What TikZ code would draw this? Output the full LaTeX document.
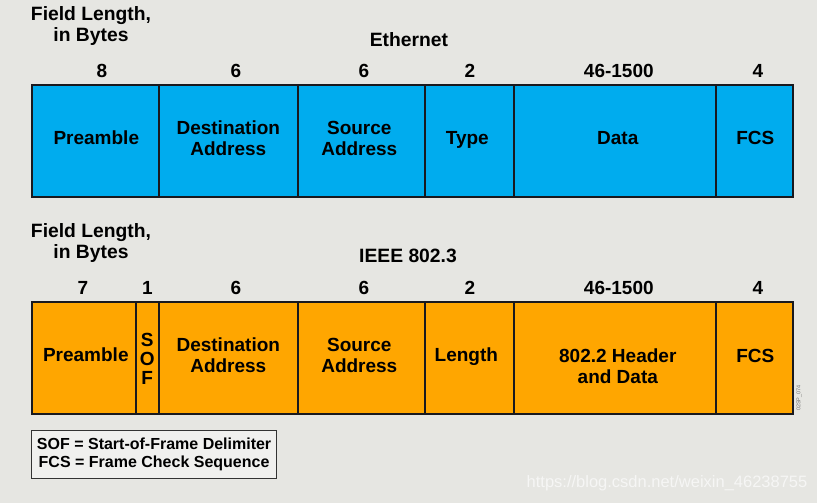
\documentclass[tikz,border=0pt]{standalone}
\usepackage{fontspec}
\setmainfont{Liberation Sans}
\definecolor{bgc}{RGB}{230,230,226}
\definecolor{ethblue}{RGB}{0,172,238}
\definecolor{ieeeor}{RGB}{255,166,0}
\definecolor{edgec}{RGB}{25,25,30}
\tikzset{
  fieldbox/.style={draw=edgec, line width=1.6pt, fill=#1, anchor=north west, inner sep=0pt,
    minimum height=112pt},
  fieldtxt/.style={align=center, inner sep=0pt, font=\fontsize{19}{21}\selectfont\bfseries},
  numlbl/.style={font=\fontsize{19}{21}\selectfont\bfseries, inner sep=0pt},
  headlbl/.style={font=\fontsize{19.3}{20.5}\selectfont\bfseries, align=center, inner sep=0pt},
}
\begin{document}
\begin{tikzpicture}[x=1pt,y=-1pt]
\fill[bgc] (0,0) rectangle (817,503);
\useasboundingbox (0,0) rectangle (817,503);

% Ethernet
\node[headlbl] (fl1) at (91,26) {Field Length,\\in Bytes};
\node[headlbl] (eth) at (409,40) {Ethernet};
\node[fieldbox=ethblue, minimum width=127pt] (e1) at (31,84) {};
\node[fieldbox=ethblue, minimum width=139pt] (e2) at (158,84) {};
\node[fieldbox=ethblue, minimum width=127pt] (e3) at (297,84) {};
\node[fieldbox=ethblue, minimum width=89pt] (e4) at (424,84) {};
\node[fieldbox=ethblue, minimum width=202pt] (e5) at (513,84) {};
\node[fieldbox=ethblue, minimum width=77pt] (e6) at (715,84) {};
\foreach \n/\t/\dx/\dy in {e1/Preamble/1/3, e2/Destination\\Address/0/2.5, e3/Source\\Address/-2/2.5,
    e4/Type/-2/1, e5/Data/3/3, e6/FCS/1/3}
  \node[fieldtxt] (t\n) at ([xshift=\dx pt, yshift=\dy pt]\n.center) {\t};
\foreach \n/\t/\dx in {e1/8/6.5,e2/6/7.5,e3/6/2.5,e4/2/0.5,e5/46-1500/4,e6/4/3.5}
  \node[numlbl] (n\n) at ([xshift=\dx pt, yshift=13pt]\n.north) {\t};

% IEEE 802.3
\node[headlbl] (fl2) at (91,243) {Field Length,\\in Bytes};
\node[headlbl] (ieee) at (408,256) {IEEE 802.3};
\node[fieldbox=ieeeor, minimum width=104pt] (i1) at (31,301) {};
\node[fieldbox=ieeeor, minimum width=23pt] (i2) at (135,301) {};
\node[fieldbox=ieeeor, minimum width=139pt] (i3) at (158,301) {};
\node[fieldbox=ieeeor, minimum width=127pt] (i4) at (297,301) {};
\node[fieldbox=ieeeor, minimum width=89pt] (i5) at (424,301) {};
\node[fieldbox=ieeeor, minimum width=202pt] (i6) at (513,301) {};
\node[fieldbox=ieeeor, minimum width=77pt] (i7) at (715,301) {};
\foreach \n/\t/\dx/\dy in {i1/Preamble/2/3, i3/Destination\\Address/0/2.5, i4/Source\\Address/-2/2,
    i5/Length/-3/1, i6/802.2 Header\\and Data/3/-8, i7/FCS/1/2}
  \node[fieldtxt] (t\n) at ([xshift=\dx pt, yshift=\dy pt]\n.center) {\t};
\node[fieldtxt, font=\fontsize{19}{19}\selectfont\bfseries] (ti2) at ([yshift=-1pt]i2.center) {S\\O\\F};
\foreach \n/\t/\dx in {i1/7/-1,i2/1/0,i3/6/7.5,i4/6/2.5,i5/2/0.5,i6/46-1500/4,i7/4/3.5}
  \node[numlbl] (n\n) at ([xshift=\dx pt, yshift=13pt]\n.north) {\t};

\node[rotate=90, font=\fontsize{5.5}{6}\selectfont, text=black!55, inner sep=0pt] (code) at (799,398) {02SP\_074};

% legend
\node[draw=black!80, line width=1.2pt, fill=bgc!60!white, anchor=north west, minimum width=245pt,
  minimum height=48pt, inner sep=0pt, align=center, font=\fontsize{16}{18.5}\selectfont\bfseries]
  (legend) at (31,430) {SOF = Start-of-Frame Delimiter\\FCS = Frame Check Sequence};

% watermark
\node[font=\fontsize{16.5}{18}\selectfont, text=white!65!bgc, inner sep=0pt] (wm) at (667,483) {https://blog.csdn.net/weixin\_46238755};
\end{tikzpicture}
\end{document}
